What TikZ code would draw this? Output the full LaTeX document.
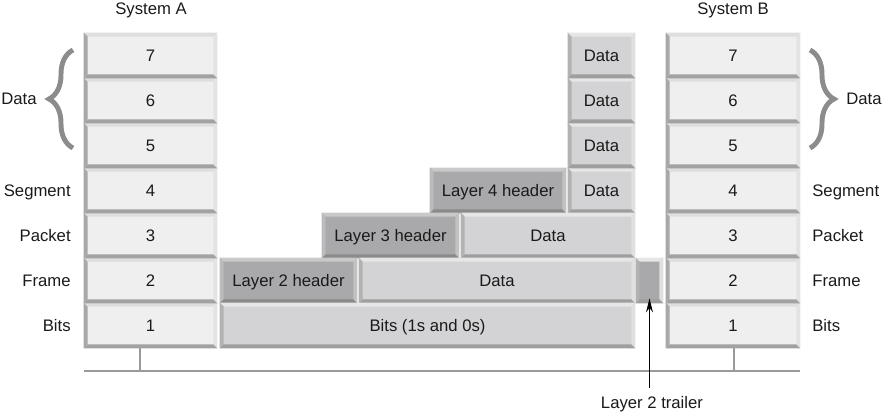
\documentclass[tikz,border=0pt]{standalone}
\usepackage{fontspec}
\setmainfont{Liberation Sans}
\usetikzlibrary{decorations.pathreplacing,arrows.meta}

\definecolor{txt}{HTML}{1A1A1A}
\definecolor{bracegray}{HTML}{8C8C8C}
\definecolor{busgray}{HTML}{9A9A9A}
% layer boxes
\definecolor{lay-face}{HTML}{EFEFF0}
\definecolor{lay-top}{HTML}{DEDEDF}
\definecolor{lay-left}{HTML}{A8A8A9}
\definecolor{lay-bot}{HTML}{A2A2A3}
\definecolor{lay-right}{HTML}{E3E3E4}
% data boxes
\definecolor{dat-face}{HTML}{D3D3D5}
\definecolor{dat-top}{HTML}{E6E6E7}
\definecolor{dat-left}{HTML}{B2B2B3}
\definecolor{dat-bot}{HTML}{9E9E9F}
\definecolor{dat-right}{HTML}{E0E0E1}
% header boxes
\definecolor{hdr-face}{HTML}{A9A9AB}
\definecolor{hdr-top}{HTML}{C9C9CA}
\definecolor{hdr-left}{HTML}{BBBBBC}
\definecolor{hdr-bot}{HTML}{8A8A8B}
\definecolor{hdr-right}{HTML}{C2C2C3}

% bevelled edges round a box node: #1 node, #2 colour set
\newcommand{\bevel}[2]{%
  \fill[#2-top] (#1.north west) -- (#1.north east) -- ([shift={(-4,4)}]#1.north east) -- ([shift={(4,4)}]#1.north west) -- cycle;
  \fill[#2-right] (#1.north east) -- (#1.south east) -- ([shift={(-4,-4)}]#1.south east) -- ([shift={(-4,4)}]#1.north east) -- cycle;
  \fill[#2-left] (#1.north west) -- (#1.south west) -- ([shift={(4,-4)}]#1.south west) -- ([shift={(4,4)}]#1.north west) -- cycle;
  \fill[#2-bot] (#1.south west) -- (#1.south east) -- ([shift={(-4,-4)}]#1.south east) -- ([shift={(4,-4)}]#1.south west) -- cycle;
}

\tikzset{
  every node/.style={font=\fontsize{9.5}{11}\selectfont, text=txt},
  box/.style={inner sep=0pt, minimum height=0.9cm, text height=6.8pt, text depth=0pt},
  lay/.style={box, fill=lay-face, minimum width=2.66cm},
  dat/.style={box, fill=dat-face},
  hdr/.style={box, fill=hdr-face},
  lbl/.style={inner sep=0pt, text height=6.8pt, text depth=0pt},
  bus/.style={busgray, line width=1.2pt},
  curly/.style={bracegray, line width=2.8pt, decorate, decoration={brace, amplitude=0.48cm}}
}

\begin{document}
\begin{tikzpicture}[x=0.02cm, y=-0.02cm]
\useasboundingbox (0,0) rectangle (883,414);

% Layer stacks of both systems
\foreach \n in {1,...,7}{
  \node[lay] (a\n) at (150.5,{370.5-\n*45}) {\n};
  \bevel{a\n}{lay}
  \node[lay, minimum width=2.68cm] (b\n) at (733,{370.5-\n*45}) {\n};
  \bevel{b\n}{lay}
}
\node[lbl] (sysA) at (151,9) {System A};
\node[lbl] (sysB) at (733,9) {System B};

% Layer names
\foreach \n/\lab in {4/Segment,3/Packet,2/Frame,1/Bits}{
  \node[lbl, anchor=east] (la\n) at (71,{370.5-\n*45}) {\lab};
  \node[lbl, anchor=west] (lb\n) at (812,{370.5-\n*45}) {\lab};
}

% Braces for the upper layers
\draw[curly] (73,148) -- (73,50);
\node[lbl] (dataA) at (19,99) {Data};
\draw[curly] (810,50) -- (810,148);
\node[lbl] (dataB) at (864,99) {Data};

% Data units of layers 7 to 4
\foreach \n in {4,...,7}{
  \node[dat, minimum width=1.34cm] (d\n) at (601.5,{370.5-\n*45}) {Data};
  \bevel{d\n}{dat}
}
\node[hdr, minimum width=2.72cm] (h4) at (498,190.5) {Layer 4 header};
\bevel{h4}{hdr}

% Layer 3
\node[hdr, minimum width=2.74cm] (h3) at (390.5,235.5) {Layer 3 header};
\bevel{h3}{hdr}
\node[dat, minimum width=3.48cm] (d3) at (548,235.5) {Data};
\bevel{d3}{dat}

% Layer 2
\node[hdr, minimum width=2.74cm] (h2) at (288.5,280.5) {Layer 2 header};
\bevel{h2}{hdr}
\node[dat, minimum width=5.52cm] (d2) at (497,280.5) {Data};
\bevel{d2}{dat}
\node[hdr, minimum width=0.54cm] (trail) at (649.5,280.5) {};
\bevel{trail}{dat}

% Layer 1
\node[dat, minimum width=8.30cm] (bits) at (427.5,325.5) {Bits (1s and 0s)};
\bevel{bits}{dat}

% Medium between the systems
\coordinate (busL) at (84,371);
\coordinate (busR) at (800,371);
\coordinate (tapA) at (140,371);
\coordinate (tapB) at (734,371);
\draw[bus] (busL) -- (busR);
\draw[bus] (tapA) -- (tapA |- a1.south);
\draw[bus] (tapB) -- (tapB |- b1.south);

% Trailer label
\node[lbl] (trl) at (652,403) {Layer 2 trailer};
\draw[-{Stealth[length=8pt,width=4pt]}, line width=0.6pt, shorten <=0.18cm, shorten >=-0.1cm] (trail.south |- trl.north) -- (trail.south);
\end{tikzpicture}
\end{document}
